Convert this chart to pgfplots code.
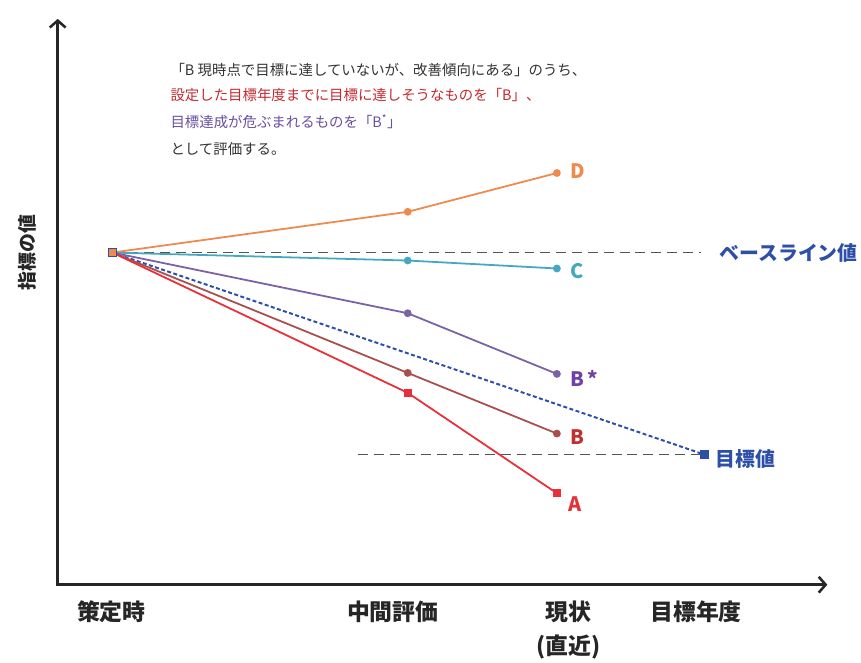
\documentclass[border=0pt]{standalone}
\usepackage{pgfplots}
\pgfplotsset{compat=1.18}
\usepackage{fontspec}
\setmainfont{Noto Sans CJK JP}
\usetikzlibrary{arrows.meta}
\definecolor{cD}{HTML}{EE8A4E}
\definecolor{cC}{HTML}{45A8C0}
\definecolor{cBs}{HTML}{7A62A6}
\definecolor{cBsL}{HTML}{7040A8}
\definecolor{cB}{HTML}{A8504E}
\definecolor{cBL}{HTML}{C0302E}
\definecolor{cA}{HTML}{E8303A}
\definecolor{cT}{HTML}{2D4FA8}
\definecolor{cG}{HTML}{555555}
\definecolor{txtR}{HTML}{C42A30}
\definecolor{txtP}{HTML}{6A4FA0}
\definecolor{txtK}{HTML}{333333}
\begin{document}
\begin{tikzpicture}
\begin{axis}[scale only axis, width=861bp, height=664bp,
  xmin=0, xmax=861, ymin=0, ymax=664, hide axis, clip=false]
\path (axis cs:0,0) rectangle (axis cs:861,664);
% axes
\addplot[black!85, line width=2.6pt, {Straight Barb[length=7pt,width=16pt]}-{Straight Barb[length=7pt,width=16pt]}] coordinates {(58,645) (58,76) (832,76)};
% reference dashed lines
\addplot[cG, line width=1.6pt, dash pattern=on 10pt off 6pt] coordinates {(113,410) (705,410)};
\addplot[cG, line width=1.6pt, dash pattern=on 10pt off 6pt] coordinates {(360,207) (705,207)};
% target line
\addplot[cT, line width=2pt, dash pattern=on 4pt off 2.5pt] coordinates {(113,410) (708,207)};
\addplot[cT, only marks, mark=square*, mark size=3.8pt] coordinates {(708,207)};
% series
\addplot[cD, line width=1.8pt, mark=*, mark size=3pt, mark indices={2,3}] coordinates {(113,410) (410,451) (560,490)};
\addplot[cC, line width=1.8pt, mark=*, mark size=3pt, mark indices={2,3}] coordinates {(113,410) (410,402) (560,394)};
\addplot[cBs, line width=1.8pt, mark=*, mark size=3pt, mark indices={2,3}] coordinates {(113,410) (410,349) (560,288)};
\addplot[cB, line width=1.8pt, mark=*, mark size=3pt, mark indices={2,3}] coordinates {(113,410) (410,289) (560,228)};
\addplot[cA, line width=1.8pt, mark=square*, mark size=3pt, mark indices={2,3}] coordinates {(113,410) (410,269) (560,168)};
\addplot[cT, only marks, mark=square*, mark size=3.8pt, mark options={fill=cD, draw=cT, line width=1.2pt}] coordinates {(113,410)};
% series labels
\begin{scope}[font=\fontsize{20bp}{22bp}\selectfont\bfseries]
\node[cD, anchor=west] at (axis cs:570,492) {D};
\node[cC, anchor=west] at (axis cs:570,391) {C};
\node[cBsL, anchor=west] at (axis cs:570,283) {B\,*};
\node[cBL, anchor=west] at (axis cs:570,224) {B};
\node[cA, anchor=west] at (axis cs:568,157) {A};
\node[cT, anchor=west] at (axis cs:720,410) {ベースライン値};
\node[cT, anchor=west] at (axis cs:716,202) {目標値};
\end{scope}
% axis labels
\begin{scope}[font=\fontsize{23bp}{26bp}\selectfont\bfseries, black!85]
\node at (axis cs:112,49) {策定時};
\node at (axis cs:395,49) {中間評価};
\node at (axis cs:572,49) {現状};
\node at (axis cs:572,13) {(直近)};
\node at (axis cs:700,49) {目標年度};
\end{scope}
\node[rotate=90, font=\fontsize{19bp}{22bp}\selectfont\bfseries, black!85] at (axis cs:27,410) {指標の値};
% annotation
\begin{scope}[font=\fontsize{14.5bp}{16bp}\selectfont]
\node[anchor=west, txtK] at (axis cs:168,594) {「B\ 現時点で目標に達していないが、改善傾向にある」のうち、};
\node[anchor=west, txtR] at (axis cs:168,568) {設定した目標年度までに目標に達しそうなものを「B」、};
\node[anchor=west, txtP] at (axis cs:168,542) {目標達成が危ぶまれるものを「B\textsuperscript{*}」};
\node[anchor=west, txtK] at (axis cs:168,514) {として評価する。};
\end{scope}
\end{axis}
\end{tikzpicture}
\end{document}
